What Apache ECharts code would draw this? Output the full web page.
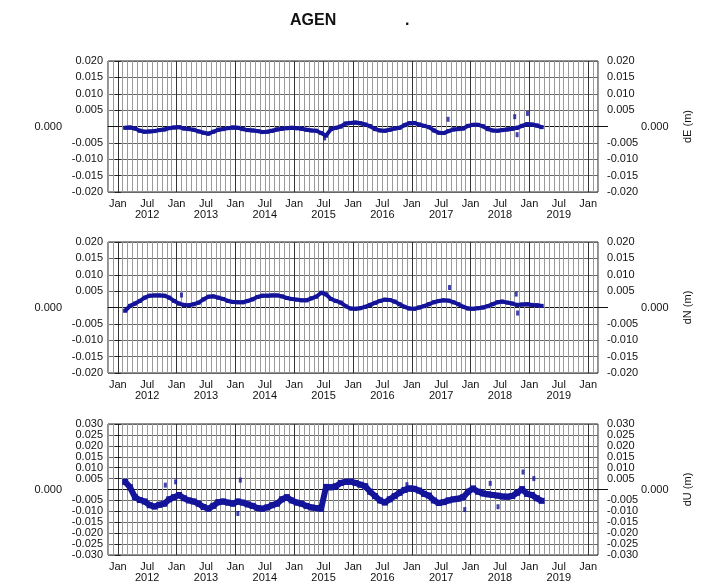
<!DOCTYPE html>
<html><head><meta charset="utf-8">
<script src="https://cdn.jsdelivr.net/npm/echarts@6/dist/echarts.min.js"></script>
<style>html,body{margin:0;padding:0;background:#fff}#c{width:701px;height:584px}</style>
</head><body><div id="c"></div>
<script>
// ---------------- DATA ----------------
const months = [
 '2012-02','2012-03','2012-04','2012-05','2012-06','2012-07','2012-08','2012-09','2012-10','2012-11','2012-12',
 '2013-01','2013-02','2013-03','2013-04','2013-05','2013-06','2013-07','2013-08','2013-09','2013-10','2013-11','2013-12',
 '2014-01','2014-02','2014-03','2014-04','2014-05','2014-06','2014-07','2014-08','2014-09','2014-10','2014-11','2014-12',
 '2015-01','2015-02','2015-03','2015-04','2015-05','2015-06','2015-07','2015-08','2015-09','2015-10','2015-11','2015-12',
 '2016-01','2016-02','2016-03','2016-04','2016-05','2016-06','2016-07','2016-08','2016-09','2016-10','2016-11','2016-12',
 '2017-01','2017-02','2017-03','2017-04','2017-05','2017-06','2017-07','2017-08','2017-09','2017-10','2017-11','2017-12',
 '2018-01','2018-02','2018-03','2018-04','2018-05','2018-06','2018-07','2018-08','2018-09','2018-10','2018-11','2018-12',
 '2019-01','2019-02','2019-03'
];
const dE = [
 -0.0004,-0.0003,-0.0006,-0.0013,-0.0016,-0.0015,-0.0014,-0.0011,-0.0009,-0.0005,-0.0003,
 -0.0002,-0.0006,-0.0008,-0.0010,-0.0015,-0.0019,-0.0022,-0.0016,-0.0010,-0.0008,-0.0005,-0.0003,
 -0.0004,-0.0008,-0.0011,-0.0012,-0.0014,-0.0017,-0.0016,-0.0013,-0.0009,-0.0007,-0.0005,-0.0004,
 -0.0005,-0.0007,-0.0010,-0.0012,-0.0013,-0.0020,-0.0028,-0.0008,-0.0004,0.0000,0.0009,0.0011,
 0.0012,0.0010,0.0006,0.0001,-0.0008,-0.0012,-0.0013,-0.0010,-0.0006,-0.0004,0.0004,0.0010,
 0.0011,0.0006,0.0002,-0.0002,-0.0012,-0.0019,-0.0020,-0.0014,-0.0009,-0.0008,-0.0006,0.0002,
 0.0005,0.0005,0.0001,-0.0008,-0.0012,-0.0013,-0.0011,-0.0009,-0.0007,-0.0004,0.0002,0.0007,
 0.0006,0.0003,-0.0002
];
const dN = [
 -0.0010,0.0005,0.0012,0.0020,0.0030,0.0036,0.0037,0.0037,0.0036,0.0030,0.0020,
 0.0012,0.0008,0.0007,0.0010,0.0015,0.0025,0.0033,0.0034,0.0030,0.0026,0.0020,0.0017,
 0.0016,0.0016,0.0020,0.0025,0.0032,0.0036,0.0036,0.0037,0.0037,0.0034,0.0029,0.0026,
 0.0024,0.0022,0.0022,0.0028,0.0033,0.0045,0.0040,0.0026,0.0020,0.0015,0.0004,-0.0003,
 -0.0004,-0.0002,0.0002,0.0008,0.0014,0.0020,0.0024,0.0023,0.0018,0.0010,0.0002,-0.0003,
 -0.0004,0.0000,0.0004,0.0010,0.0016,0.0020,0.0022,0.0021,0.0016,0.0010,0.0002,-0.0003,
 -0.0004,-0.0002,0.0000,0.0004,0.0010,0.0016,0.0018,0.0015,0.0012,0.0008,0.0009,0.0010,
 0.0008,0.0007,0.0005
];
const dU = [
 0.0035,0.0010,-0.0035,-0.0048,-0.0055,-0.0072,-0.0078,-0.0070,-0.0065,-0.0045,-0.0035,
 -0.0025,-0.0040,-0.0050,-0.0055,-0.0065,-0.0080,-0.0088,-0.0075,-0.0058,-0.0055,-0.0060,-0.0065,
 -0.0055,-0.0060,-0.0068,-0.0075,-0.0085,-0.0088,-0.0082,-0.0072,-0.0065,-0.0045,-0.0035,-0.0050,
 -0.0060,-0.0065,-0.0075,-0.0082,-0.0085,-0.0088,0.0012,0.0010,0.0015,0.0030,0.0035,0.0036,
 0.0030,0.0022,0.0015,-0.0010,-0.0030,-0.0050,-0.0060,-0.0045,-0.0030,-0.0015,-0.0002,0.0005,
 0.0003,-0.0005,-0.0020,-0.0028,-0.0050,-0.0062,-0.0058,-0.0050,-0.0045,-0.0042,-0.0035,-0.0010,
 0.0005,-0.0010,-0.0018,-0.0022,-0.0025,-0.0028,-0.0032,-0.0033,-0.0030,-0.0015,0.0002,-0.0020,
 -0.0025,-0.0040,-0.0052
];
const dEOut = [['2015-07-07',-0.0035],['2017-08-13',0.0022],['2018-10-01',0.0030],['2018-10-16',-0.0025],['2018-12-19',0.0040]];
const dNOut = [['2013-02-01',0.0038],['2017-08-22',0.0061],['2018-10-10',0.0041],['2018-10-19',-0.0017]];
const dUOut = [['2012-10-22',0.0020],['2012-12-25',0.0035],['2014-01-16',-0.0110],['2014-02-01',0.0043],['2016-12-01',0.0022],
               ['2017-11-25',-0.0092],['2018-05-01',0.0028],['2018-06-19',-0.0079],['2018-11-22',0.0080],['2019-01-28',0.0050]];
const eventDate = '2015-07-01';
const janDates = ['2012-01','2013-01','2014-01','2015-01','2016-01','2017-01','2018-01','2019-01','2020-01'];
const xTickDates = ['2012-01','2012-07','2013-01','2013-07','2014-01','2014-07','2015-01','2015-07','2016-01','2016-07',
                    '2017-01','2017-07','2018-01','2018-07','2019-01','2019-07','2020-01'];
const xTickLabels = ['Jan','Jul\n2012','Jan','Jul\n2013','Jan','Jul\n2014','Jan','Jul\n2015','Jan','Jul\n2016',
                     'Jan','Jul\n2017','Jan','Jul\n2018','Jan','Jul\n2019','Jan'];
const panelNames = ['dE (m)','dN (m)','dU (m)'];
const yLimits = [0.020, 0.020, 0.030];

// ---------------- HELPERS ----------------
function mIdx(s){const p=s.split('-').map(Number);return (p[0]-2012)*12+(p[1]-1)+(p.length>2?(p[2]-1)/30:0);}
const monthMid = months.map(s=>mIdx(s)+0.5);
const janVals = janDates.map(mIdx);
const xTickVals = xTickDates.map(mIdx);
const labelMap = {}; xTickVals.forEach((v,i)=>labelMap[v]=xTickLabels[i]);
const minorVals = []; for(let v=-2; v<=98; v++) minorVals.push(v);

const FONT = '"Liberation Sans", Arial, Helvetica, sans-serif';
const BLUE = '#14149a';
const X0=-2, X1=98;
const tops=[61,242,424], H=131, LEFT=108, W=496;

const series=[[dE,dEOut],[dN,dNOut],[dU,dUOut]];
const grid=[], xAxis=[], yAxis=[], ser=[];
for(let i=0;i<3;i++){
  grid.push({left:LEFT, top:tops[i], width:W, height:H, show:true, borderColor:'#222', borderWidth:1, backgroundColor:'#fff'});
  xAxis.push({gridIndex:i, type:'value', min:X0, max:X1, position:'bottom',
    axisLine:{show:false}, axisLabel:{show:false},
    axisTick:{show:false, customValues:minorVals},
    splitLine:{show:true, lineStyle:{color:'#9a9a9a', width:1}}});
  xAxis.push({gridIndex:i, type:'value', min:X0, max:X1, position:'bottom',
    axisLine:{show:false},
    axisTick:{show:false, customValues:janVals},
    axisLabel:{show:true, customValues:xTickVals, margin:6, fontSize:11, lineHeight:11, color:'#111', fontFamily:FONT,
      verticalAlign:'top', formatter:v=>labelMap[Math.round(v)]||''},
    splitLine:{show:true, lineStyle:{color:'#333', width:1}}});
  xAxis.push({gridIndex:i, type:'value', min:X0, max:X1, position:'top',
    axisLine:{show:false}, axisLabel:{show:false},
    axisTick:{show:true, customValues:janVals, length:4, lineStyle:{color:'#333'}},
    splitLine:{show:false}});
  const L=yLimits[i];
  const base={gridIndex:i, type:'value', min:-L, max:L, interval:0.005};
  yAxis.push(Object.assign({},base,{position:'left',
    axisLine:{show:false},
    axisTick:{show:true, length:3, lineStyle:{color:'#222'}},
    axisLabel:{fontSize:11, color:'#111', fontFamily:FONT, margin:5, formatter:v=>Math.abs(v)<1e-9?'':v.toFixed(3)},
    splitLine:{show:true, lineStyle:{color:'#666', width:1}}}));
  yAxis.push({gridIndex:i, type:'value', min:-L, max:L, position:'left',
    axisLine:{show:false},
    axisTick:{show:true, length:10, customValues:[0], lineStyle:{color:'#111'}},
    axisLabel:{customValues:[0], fontSize:11, color:'#111', fontFamily:FONT, margin:46, formatter:v=>'0.000'},
    splitLine:{show:true, lineStyle:{color:'#111', width:1}}});
  yAxis.push(Object.assign({},base,{position:'right',
    axisLine:{show:false},
    axisTick:{show:true, length:3, lineStyle:{color:'#222'}},
    axisLabel:{fontSize:11, color:'#111', fontFamily:FONT, margin:9, formatter:v=>Math.abs(v)<1e-9?'':v.toFixed(3)},
    splitLine:{show:false}}));
  yAxis.push({gridIndex:i, type:'value', min:-L, max:L, position:'right',
    axisLine:{show:false},
    axisTick:{show:true, length:10, customValues:[0], lineStyle:{color:'#111'}},
    axisLabel:{customValues:[0], fontSize:11, color:'#111', fontFamily:FONT, margin:43, formatter:v=>'0.000'},
    splitLine:{show:false},
    name:panelNames[i], nameLocation:'middle', nameRotate:90, nameGap:84,
    nameTextStyle:{fontSize:11, color:'#111', fontFamily:FONT}});
  const xa=i*3+1, ya=i*4;
  const [vals,outs]=series[i];
  ser.push({type:'line', xAxisIndex:xa, yAxisIndex:ya, data:[], z:1, silent:true,
    markLine:{silent:true, symbol:['none','none'], label:{show:false},
      lineStyle:{color:'#cc2020', width:1, type:'solid'}, data:[{xAxis:mIdx(eventDate)}]}});
  ser.push({type:'line', xAxisIndex:xa, yAxisIndex:ya, z:5,
    data:monthMid.map((m,k)=>[m,vals[k]]),
    symbol:'rect', symbolSize:i===2?6:4, showSymbol:true,
    lineStyle:{color:BLUE, width:i===2?6:4}, itemStyle:{color:BLUE}});
  ser.push({type:'scatter', xAxisIndex:xa, yAxisIndex:ya, z:5,
    data:outs.map(o=>[mIdx(o[0]),o[1]]), symbol:'rect', symbolSize:[3,5], itemStyle:{color:BLUE}});
}

const chart = echarts.init(document.getElementById('c'), null, {renderer:'canvas'});
chart.setOption({
  animation:false,
  backgroundColor:'#fff',
  title:[
    {text:'AGEN', left:285, top:8, textStyle:{fontSize:16, fontWeight:'bold', color:'#111', fontFamily:FONT}},
    {text:'.', left:400, top:8, textStyle:{fontSize:16, fontWeight:'bold', color:'#111', fontFamily:FONT}}
  ],
  grid, xAxis, yAxis, series:ser
});
</script></body></html>
